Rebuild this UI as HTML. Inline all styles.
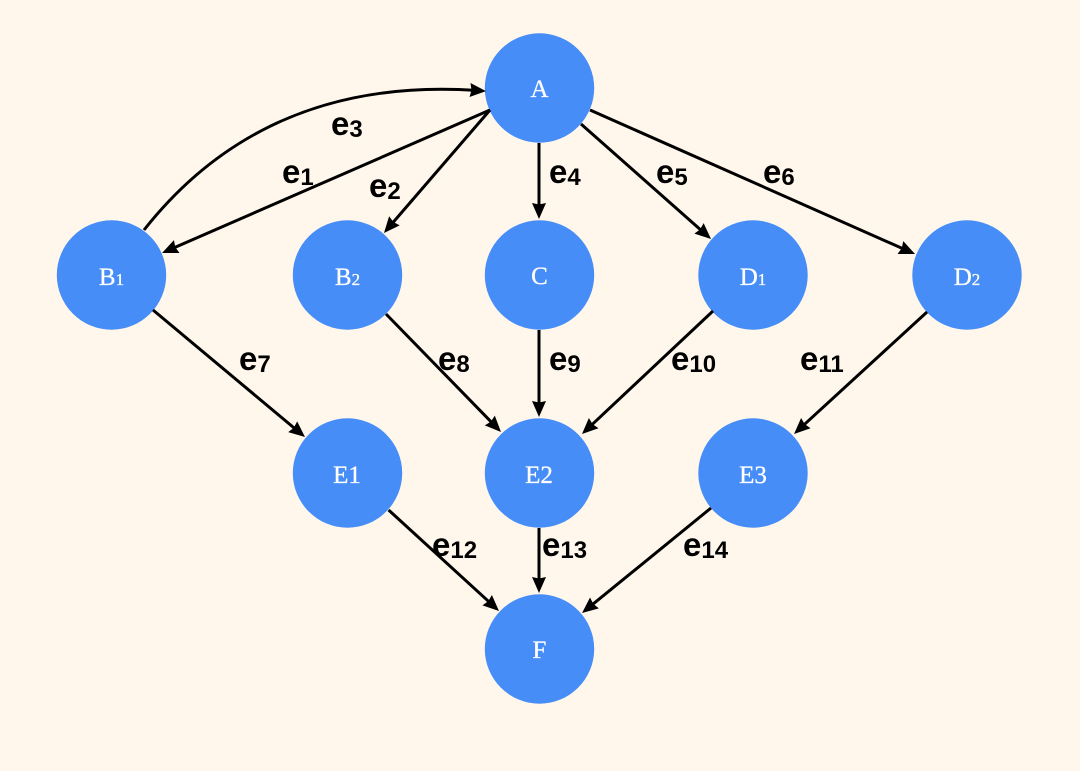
<!DOCTYPE html>
<html>
<head>
<meta charset="utf-8">
<style>
html,body{margin:0;padding:0;background:#FFF7EC;}
svg{display:block;}
.e{font-family:"Liberation Sans",sans-serif;font-weight:bold;font-size:33px;fill:#000;}
.e tspan{font-size:24px;}
.n{font-family:"Liberation Serif",serif;font-size:25px;fill:#fff;stroke:#fff;stroke-width:.3;text-anchor:middle;}
.n tspan{font-size:17px;}
.l{fill:none;stroke:#000;stroke-width:3;}
</style>
</head>
<body>
<svg width="1080" height="771" viewBox="0 0 1080 771" xmlns="http://www.w3.org/2000/svg">
<defs>
<marker id="a" markerUnits="userSpaceOnUse" markerWidth="18" markerHeight="16" refX="6" refY="7" orient="auto" overflow="visible">
<path d="M0,0 L16,7 L0,14 L1.5,7 Z" fill="#000"/>
</marker>
</defs>
<rect width="1080" height="771" fill="#FFF7EC"/>

<g fill="#468DF7">
<circle cx="539.5" cy="88" r="54.7"/>
<circle cx="111.5" cy="275" r="54.7"/>
<circle cx="347.5" cy="275" r="54.7"/>
<circle cx="539.5" cy="275" r="54.7"/>
<circle cx="753" cy="275" r="54.7"/>
<circle cx="967" cy="275" r="54.7"/>
<circle cx="347.5" cy="473" r="54.7"/>
<circle cx="539.5" cy="473" r="54.7"/>
<circle cx="753" cy="473" r="54.7"/>
<circle cx="539.5" cy="649" r="54.7"/>
</g>

<path class="l" marker-end="url(#a)" d="M490,110 L171.2,249"/>
<path class="l" marker-end="url(#a)" d="M490,110 L390.5,225.4"/>
<path class="l" marker-end="url(#a)" d="M144,230 C215,140 320,80 476,90.4"/>
<path class="l" marker-end="url(#a)" d="M539,143 L539,209"/>
<path class="l" marker-end="url(#a)" d="M581,124 L703.5,232.4"/>
<path class="l" marker-end="url(#a)" d="M590,110 L905.9,250"/>
<path class="l" marker-end="url(#a)" d="M153,310 L297.3,430.6"/>
<path class="l" marker-end="url(#a)" d="M386,314 L494,424.8"/>
<path class="l" marker-end="url(#a)" d="M539,330 L539,407"/>
<path class="l" marker-end="url(#a)" d="M713,311 L589.3,427.2"/>
<path class="l" marker-end="url(#a)" d="M927,312 L801.4,427.2"/>
<path class="l" marker-end="url(#a)" d="M388.6,510 L491.6,604.2"/>
<path class="l" marker-end="url(#a)" d="M539,528 L539,583"/>
<path class="l" marker-end="url(#a)" d="M711,508 L589.8,606.7"/>

<text class="n" x="539.5" y="97">A</text>
<text class="n" x="111.5" y="285">B<tspan>1</tspan></text>
<text class="n" x="347.5" y="285">B<tspan>2</tspan></text>
<text class="n" x="539.5" y="284">C</text>
<text class="n" x="753" y="285">D<tspan>1</tspan></text>
<text class="n" x="967" y="285">D<tspan>2</tspan></text>
<text class="n" x="347" y="483">E1</text>
<text class="n" x="539" y="483">E2</text>
<text class="n" x="753" y="483">E3</text>
<text class="n" x="539.5" y="658">F</text>

<text class="e" x="282" y="183">e<tspan dy="2">1</tspan></text>
<text class="e" x="369" y="197">e<tspan dy="2">2</tspan></text>
<text class="e" x="331" y="135">e<tspan dy="2">3</tspan></text>
<text class="e" x="549" y="183">e<tspan dy="2">4</tspan></text>
<text class="e" x="656" y="183">e<tspan dy="2">5</tspan></text>
<text class="e" x="763" y="183">e<tspan dy="2">6</tspan></text>
<text class="e" x="239" y="370">e<tspan dy="2">7</tspan></text>
<text class="e" x="438" y="370">e<tspan dy="2">8</tspan></text>
<text class="e" x="549" y="370">e<tspan dy="2">9</tspan></text>
<text class="e" x="671" y="370">e<tspan dy="2">10</tspan></text>
<text class="e" x="800" y="370">e<tspan dy="2">11</tspan></text>
<text class="e" x="432" y="556">e<tspan dy="2">12</tspan></text>
<text class="e" x="542" y="556">e<tspan dy="2">13</tspan></text>
<text class="e" x="683" y="556">e<tspan dy="2">14</tspan></text>
</svg>
</body>
</html>
